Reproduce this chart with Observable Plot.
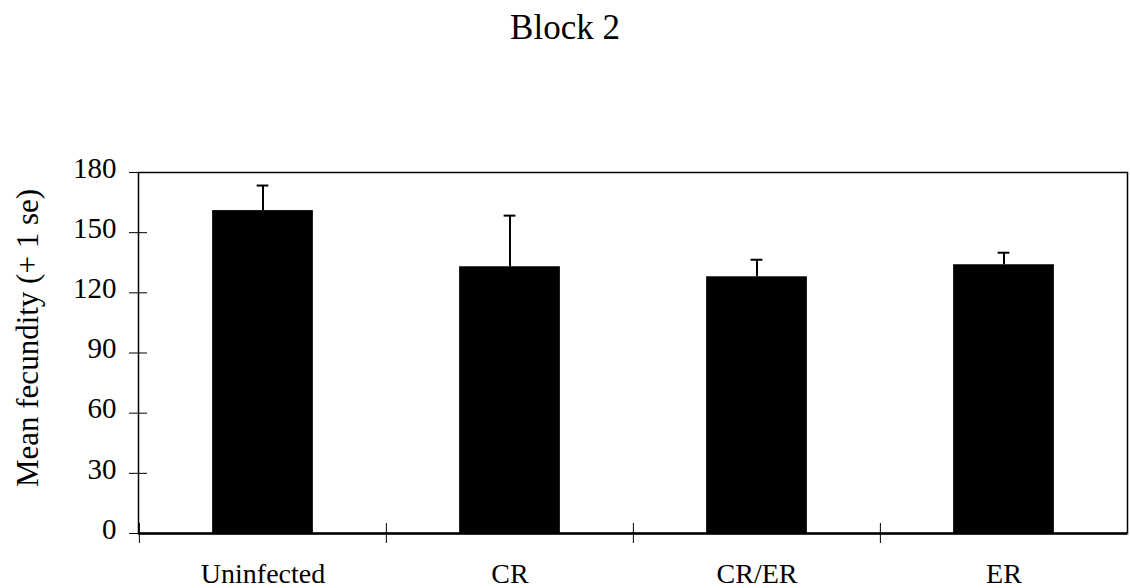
<!DOCTYPE html>
<html>
<head>
<meta charset="utf-8">
<script src="https://cdn.jsdelivr.net/npm/d3@7"></script>
<script src="https://cdn.jsdelivr.net/npm/@observablehq/plot@0.6"></script>
<style>
  body { margin: 0; background: #fff; }
  #wrap { position: relative; width: 1130px; height: 588px; }
  #title { position: absolute; top: 8px; left: 0; width: 1130px; text-align: center; z-index: 2;
           font-family: "Liberation Serif", serif; font-size: 35px; color: #000; }
  svg { position: absolute; top: 0; left: 0; z-index: 1; }
</style>
</head>
<body>
<div id="wrap"><div id="title">Block 2</div></div>
<script>
const categories = ["Uninfected", "CR", "CR/ER", "ER"];
const means = [161, 133, 128, 134];
const upperSE = [173.5, 158.5, 136.5, 140];
const yTicks = [0, 30, 60, 90, 120, 150, 180];
const yLabel = "Mean fecundity (+ 1 se)";

const data = categories.map((c, i) => ({category: c, mean: means[i], upper: upperSE[i]}));

const W = 1130, H = 588, mT = 172, mL = 138, mR = 3, mB = 55;
const plotW = W - mL - mR, plotH = H - mT - mB;
const bw = plotW / categories.length;
const font = "Liberation Serif";

const chart = Plot.plot({
  width: W, height: H, marginTop: mT, marginLeft: mL, marginRight: mR, marginBottom: mB,
  style: {fontFamily: font, background: "transparent", color: "black"},
  x: {domain: categories, padding: 0, axis: null},
  y: {domain: [0, 180], axis: null},
  marks: [
    Plot.barY(data, {x: "category", y: "mean", fill: "black", insetLeft: (bw - 101) / 2, insetRight: (bw - 101) / 2}),
    Plot.ruleX(data, {x: "category", y1: "mean", y2: "upper", stroke: "black", strokeWidth: 2}),
    Plot.tickY(data, {x: "category", y: "upper", stroke: "black", strokeWidth: 2, insetLeft: (bw - 12) / 2, insetRight: (bw - 12) / 2}),
    Plot.frame({stroke: "black", strokeWidth: 1.5}),
    Plot.ruleY([0], {stroke: "black", strokeWidth: 2.5}),
    Plot.tickY(yTicks, {y: d => d, stroke: "black", strokeWidth: 1, insetLeft: -9, insetRight: plotW - 9}),
    Plot.text(yTicks, {y: d => d, text: d => String(d), frameAnchor: "left", dx: -22, dy: -4, textAnchor: "end", fontSize: 29, fontFamily: font, fill: "black"}),
    Plot.ruleX(categories, {x: d => d, dx: -bw / 2, stroke: "black", strokeWidth: 1, insetTop: plotH - 10, insetBottom: -10}),
    Plot.text(categories, {x: d => d, text: d => d, frameAnchor: "bottom", dy: 41, lineAnchor: "middle", fontSize: 28, fontFamily: font, fill: "black"}),
    Plot.text([yLabel], {text: d => d, frameAnchor: "left", dx: -110, dy: -15, rotate: -90, textAnchor: "middle", fontSize: 31, fontFamily: font, fill: "black"})
  ]
});
document.getElementById("wrap").appendChild(chart);
</script>
</body>
</html>
